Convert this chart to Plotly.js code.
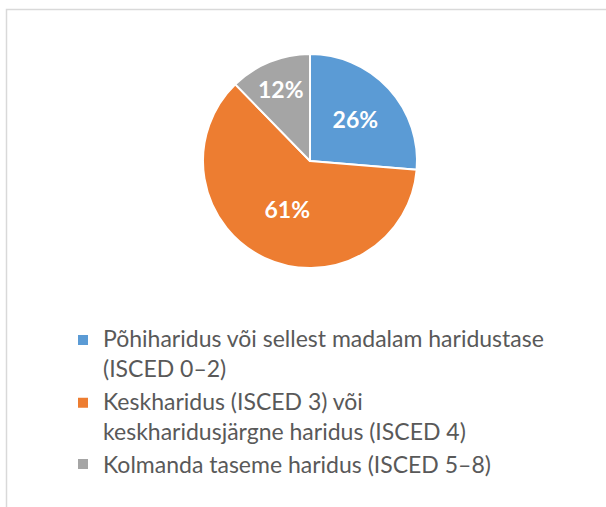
<!DOCTYPE html>
<html>
<head>
<meta charset="utf-8">
<script src="https://cdn.plot.ly/plotly-3.0.1.min.js"></script>
<style>html,body{margin:0;padding:0;background:#fff;}#chart{width:606px;height:507px;}</style>
</head>
<body>
<div id="chart"></div>
<script>
const categories = [
  "Põhiharidus või sellest madalam haridustase<br>(ISCED 0–2)",
  "Keskharidus (ISCED 3) või<br>keskharidusjärgne haridus (ISCED 4)",
  "Kolmanda taseme haridus (ISCED 5–8)"
];
const shares = [26.3, 61.4, 12.3];
const colors = ["#5b9bd5", "#ed7d31", "#a5a5a5"];

const W = 606, H = 507;
const cx = 310, cy = 161, r = 107;
const legendFontSize = 23;

const trace = {
  type: "pie",
  labels: categories,
  values: shares,
  sort: false,
  direction: "clockwise",
  rotation: 0,
  marker: {colors: colors, line: {color: "#ffffff", width: 2}},
  texttemplate: "%{percent:.0%}",
  textposition: "inside",
  insidetextorientation: "horizontal",
  textfont: {family: "Lato, 'Open Sans', sans-serif", size: 23, color: "#ffffff", weight: "bold"},
  hoverinfo: "none",
  domain: {x: [(cx - r) / W, (cx + r) / W], y: [1 - (cy + r) / H, 1 - (cy - r) / H]}
};

const layout = {
  width: W, height: H,
  margin: {l: 0, r: 0, t: 0, b: 0},
  paper_bgcolor: "#ffffff",
  showlegend: true,
  uniformtext: {mode: "show", minsize: 23},
  legend: {
    x: 63 / W, xanchor: "left",
    y: 1 - 317 / H, yanchor: "top",
    font: {family: "Lato, 'Open Sans', sans-serif", size: legendFontSize, color: "#595959"},
    bgcolor: "rgba(0,0,0,0)",
    itemclick: false
  },
  shapes: [{
    type: "rect", xref: "paper", yref: "paper",
    x0: 6.5 / W, x1: 1.2, y0: -0.2, y1: 1 - 9.5 / H,
    line: {color: "#d9d9d9", width: 1.5}
  }]
};

// Align each legend symbol with the first line of its (wrapped) text
function alignLegendSymbolsTop() {
  const gd = document.getElementById("chart");
  gd.querySelectorAll("g.traces").forEach(item => {
    const txt = item.querySelector("text");
    const pts = item.querySelector("g.legendpoints");
    if (!txt || !pts) return;
    const n = txt.querySelectorAll("tspan.line").length || 1;
    if (n < 2) return;
    if (pts.dataset.orig === undefined) pts.dataset.orig = pts.getAttribute("transform") || "";
    pts.setAttribute("transform", pts.dataset.orig);
    const tr = txt.getBoundingClientRect();
    const pr = pts.getBoundingClientRect();
    const target = tr.top + tr.height / (2 * n) + 1;
    const current = pr.top + pr.height / 2;
    pts.setAttribute("transform", (pts.dataset.orig + " translate(0," + (target - current) + ")").trim());
  });
}

Plotly.newPlot("chart", [trace], layout, {displayModeBar: false, staticPlot: true})
  .then(() => {
    alignLegendSymbolsTop();
    setTimeout(alignLegendSymbolsTop, 100);
    setTimeout(alignLegendSymbolsTop, 500);
  });
</script>
</body>
</html>
